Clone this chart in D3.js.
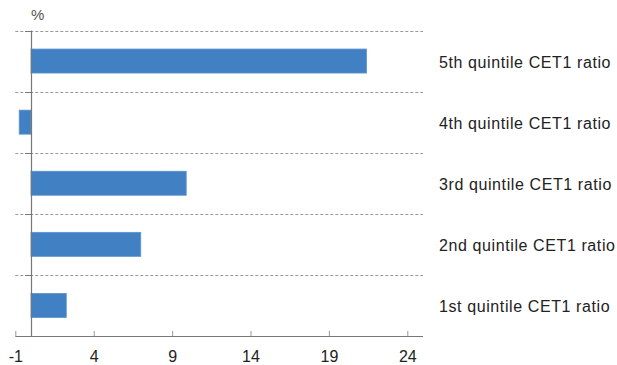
<!DOCTYPE html>
<html>
<head>
<meta charset="utf-8">
<script src="https://cdn.jsdelivr.net/npm/d3@7"></script>
<style>
  html, body { margin: 0; padding: 0; background: #fff; }
  svg { display: block; }
  text { font-family: "Liberation Sans", Arial, Helvetica, sans-serif; }
</style>
</head>
<body>
<svg id="chart" width="617" height="365"></svg>
<script>
// Change by CET1 ratio quintile, in per cent
const categories = [
  "5th quintile CET1 ratio",
  "4th quintile CET1 ratio",
  "3rd quintile CET1 ratio",
  "2nd quintile CET1 ratio",
  "1st quintile CET1 ratio"
];
const values = [21.4, -0.75, 9.9, 7.0, 2.25];
const xTicks = [-1, 4, 9, 14, 19, 24];
const unitLabel = "%";

(function () {
  const svg = d3.select("#chart");
  const plotLeft = 15.3, plotRight = 423, plotTop = 30.5, plotBottom = 336;

  const x = d3.scaleLinear().domain([-1, 25]).range([plotLeft, plotLeft + 26 * 15.68]);
  const y = d3.scaleBand().domain(categories).range([plotTop, plotBottom]).padding(0);
  const barH = 24;

  // dashed separators between categories
  const seps = categories.map(c => y(c));
  svg.append("g").selectAll("line").data(seps).join("line")
    .attr("x1", plotLeft).attr("x2", plotRight)
    .attr("y1", d => Math.round(d) + 0.5).attr("y2", d => Math.round(d) + 0.5)
    .attr("stroke", "#9a9a9a").attr("stroke-width", 1)
    .attr("stroke-dasharray", "3,2");

  // small ticks on the category axis
  svg.append("g").selectAll("line").data(seps).join("line")
    .attr("x1", x(0) - 6).attr("x2", x(0))
    .attr("y1", d => Math.round(d) + 0.5).attr("y2", d => Math.round(d) + 0.5)
    .attr("stroke", "#777").attr("stroke-width", 1);

  // bars
  svg.append("g").selectAll("rect").data(values).join("rect")
    .attr("x", d => x(Math.min(0, d)))
    .attr("width", d => Math.abs(x(d) - x(0)))
    .attr("y", (d, i) => y(categories[i]) + y.bandwidth() / 2 - barH / 2)
    .attr("height", barH)
    .attr("fill", "#4180c3")
    .attr("stroke", "#5b93cf").attr("stroke-width", 0.8);

  // vertical zero line
  svg.append("line")
    .attr("x1", Math.round(x(0)) + 0.5).attr("x2", Math.round(x(0)) + 0.5)
    .attr("y1", plotTop).attr("y2", plotBottom)
    .attr("stroke", "#777").attr("stroke-width", 1.2);

  // value axis
  const axis = d3.axisBottom(x).tickValues(xTicks).tickFormat(d => String(d)).tickSizeOuter(0);
  const gx = svg.append("g").attr("transform", `translate(0,${plotBottom})`);
  gx.call(axis);
  gx.select(".domain").attr("d", `M${plotLeft},0.5H${plotRight}`).attr("stroke", "#777");
  gx.selectAll(".tick line").attr("y1", 0).attr("y2", -5).attr("stroke", "#999");
  gx.selectAll(".tick text")
    .attr("y", 26).attr("dy", 0)
    .attr("font-size", 16)
    .attr("fill", "#222")
    .attr("font-family", "Liberation Sans, Arial, sans-serif");

  // category labels on the right
  svg.append("g").selectAll("text").data(categories).join("text")
    .attr("x", 439)
    .attr("y", d => y(d) + y.bandwidth() / 2 + 6.8)
    .attr("font-size", 16)
    .attr("letter-spacing", 0.6)
    .attr("fill", "#222")
    .text(d => d);

  // unit label
  svg.append("text")
    .attr("x", 31).attr("y", 20)
    .attr("font-size", 15)
    .attr("fill", "#555")
    .text(unitLabel);
})();
</script>
</body>
</html>
